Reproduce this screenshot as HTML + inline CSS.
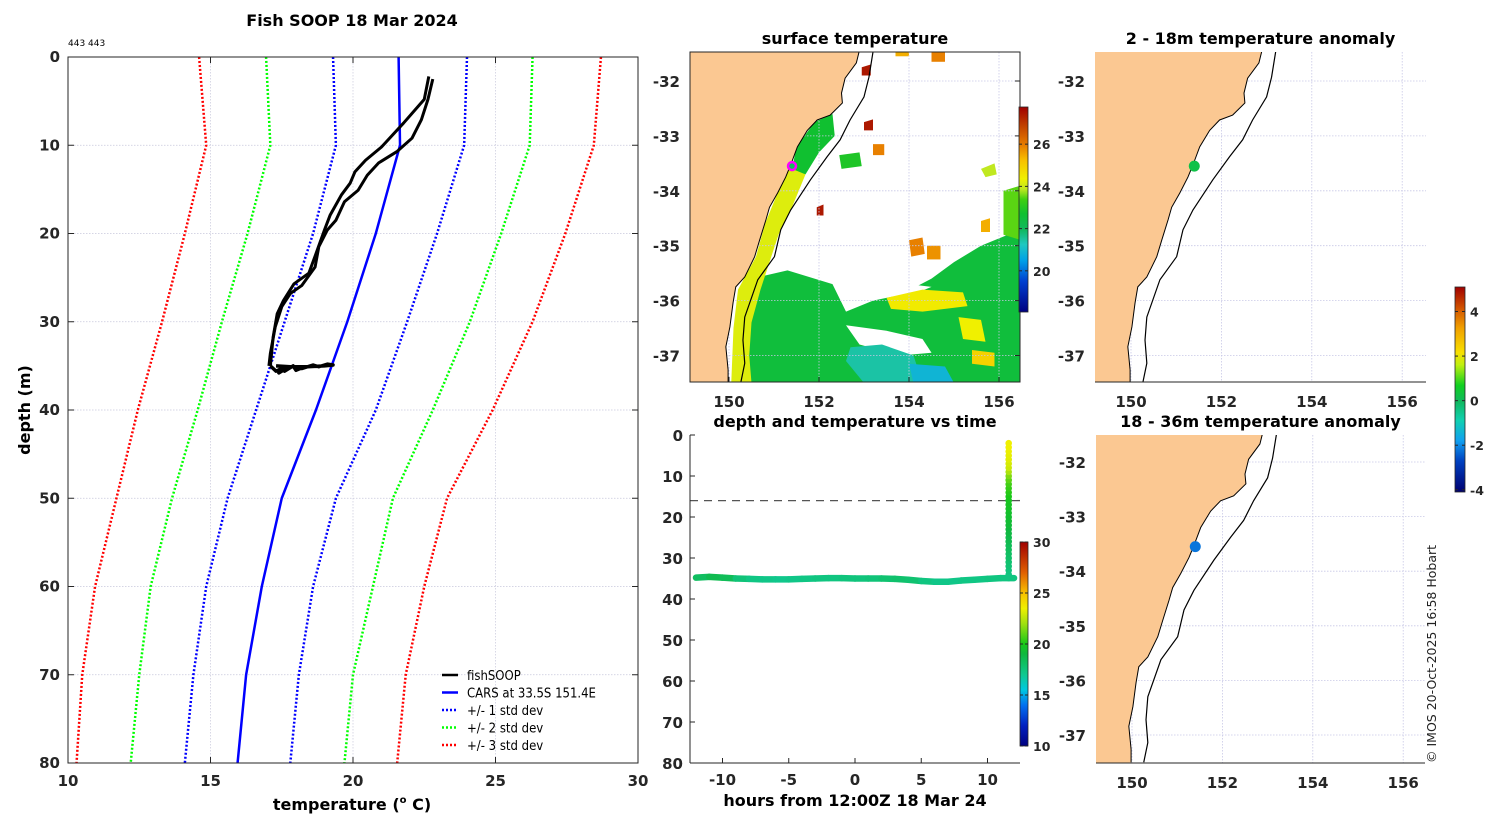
<!DOCTYPE html>
<html><head><meta charset="utf-8"><style>
html,body{margin:0;padding:0;background:#fff;}
svg{display:block;font-family:"DejaVu Sans","Liberation Sans",sans-serif;}
.tk{font-size:15px;font-weight:bold;fill:#262626;}
.tt{font-size:16px;font-weight:bold;fill:#000;}
.cb{font-size:12.5px;font-weight:bold;fill:#262626;}
</style></head><body>
<svg id="fig" width="1500" height="820" viewBox="0 0 1500 820" xmlns="http://www.w3.org/2000/svg">
<defs>
<clipPath id="cp1"><rect x="690" y="52" width="330" height="330"/></clipPath>
<clipPath id="cp2"><rect x="1095" y="52" width="331" height="330"/></clipPath>
<clipPath id="cp3"><rect x="1096" y="435" width="329" height="328"/></clipPath>
<clipPath id="cpm"><rect x="68" y="57" width="570" height="706"/></clipPath>
<linearGradient id="gT" x1="0" y1="1" x2="0" y2="0">
<stop offset="0" stop-color="#00007f"/><stop offset="0.1" stop-color="#0020c0"/><stop offset="0.2" stop-color="#0070f0"/><stop offset="0.275" stop-color="#00c8e0"/><stop offset="0.35" stop-color="#10c890"/><stop offset="0.45" stop-color="#10b840"/><stop offset="0.5" stop-color="#18c818"/><stop offset="0.6" stop-color="#a0e010"/><stop offset="0.675" stop-color="#f0f000"/><stop offset="0.75" stop-color="#f8c000"/><stop offset="0.85" stop-color="#e06000"/><stop offset="1" stop-color="#a00000"/></linearGradient>
<linearGradient id="gS" x1="0" y1="1" x2="0" y2="0">
<stop offset="0" stop-color="#000080"/><stop offset="0.15" stop-color="#0040d0"/><stop offset="0.25" stop-color="#00a0e8"/><stop offset="0.33" stop-color="#20c8c0"/><stop offset="0.4" stop-color="#10b860"/><stop offset="0.48" stop-color="#10c030"/><stop offset="0.55" stop-color="#40d010"/><stop offset="0.6" stop-color="#c0e820"/><stop offset="0.65" stop-color="#f0f000"/><stop offset="0.74" stop-color="#f8c000"/><stop offset="0.81" stop-color="#e88000"/><stop offset="0.91" stop-color="#c04000"/><stop offset="1" stop-color="#a00000"/></linearGradient>
<linearGradient id="gA" x1="0" y1="1" x2="0" y2="0">
<stop offset="0" stop-color="#000070"/><stop offset="0.15" stop-color="#0040c0"/><stop offset="0.25" stop-color="#10a0f0"/><stop offset="0.35" stop-color="#10d0b0"/><stop offset="0.44" stop-color="#10b860"/><stop offset="0.52" stop-color="#10d020"/><stop offset="0.62" stop-color="#c0f010"/><stop offset="0.68" stop-color="#f8e000"/><stop offset="0.8" stop-color="#f0a000"/><stop offset="0.9" stop-color="#d05000"/><stop offset="1" stop-color="#a00000"/></linearGradient>
</defs>
<g id="root"></g>
</svg>
<script>
// ---------- profile data ----------
const stdDepths=[0,10,20,30,40,50,60,70,80];
const carsT=[21.6,21.65,20.8,19.8,18.7,17.5,16.8,16.25,15.95];
const p1T=[24.0,23.9,22.95,21.9,20.8,19.4,18.6,18.1,17.8];
const m1T=[19.3,19.4,18.6,17.6,16.6,15.6,14.85,14.4,14.1];
const p2T=[26.3,26.2,25.2,24.1,22.8,21.4,20.7,20.0,19.7];
const m2T=[16.95,17.1,16.3,15.4,14.55,13.65,12.9,12.5,12.2];
const p3T=[28.7,28.45,27.45,26.3,24.9,23.3,22.5,21.85,21.55];
const m3T=[14.6,14.85,14.1,13.3,12.45,11.7,10.95,10.5,10.3];
const castAT=[22.66,22.5,21.77,21.0,20.44,20.07,19.9,19.6,19.2,19.0,18.7,18.45,17.93,17.56,17.34,17.2,17.1];
const castAD=[2.2,4.8,7.5,10.2,11.7,13,14.3,15.6,17.9,19.6,22.3,24.5,25.7,27.6,29.1,31.7,35];
const castBT=[22.8,22.63,22.4,22.07,21.55,20.9,20.5,20.18,19.7,19.4,19.1,18.8,18.67,18.2,17.8,17.5,17.27,17.1,17.05];
const castBD=[2.5,4.8,7.1,9.2,10.7,12,13.4,15.1,16.4,18.5,19.6,21.5,23.8,25.9,26.8,28.3,30.6,33.6,35];
const bottomT=[17.1,17.3,17.5,17.4,17.7,17.6,17.9,18.0,18.3,18.2,18.6,18.8,19.1,19.3,19.0,18.4,17.8,17.3];
const bottomD=[35.0,35.6,35.3,35.8,35.2,35.6,35.0,35.5,35.1,35.3,34.9,35.1,34.8,34.9,35.0,35.1,35.1,35.0];
const tempTicks=[10,15,20,25,30];
const depthTicks=[0,10,20,30,40,50,60,70,80];
// ---------- time series data ----------
const hrs=[-12,-11,-10,-9,-8,-7,-6,-5,-4,-3,-2,-1,0,1,2,3,4,5,6,7,8,9,10,11,11.6,12];
const hrDepth=[34.8,34.6,34.8,35.0,35.1,35.2,35.2,35.2,35.1,35.0,34.9,34.9,35.0,35.0,35.0,35.1,35.3,35.6,35.8,35.8,35.5,35.3,35.1,34.9,34.9,34.9];
const hrTemp=[18.2,18.6,18.4,17.6,17.3,17.2,17.1,17.2,17.3,17.4,17.4,17.5,17.5,17.6,17.8,17.9,17.8,17.4,17.2,17.2,17.3,17.3,17.4,17.4,17.4,17.4];
const castDepth=[2,3,4,5,6,7,8,9,10,11,12,13,14,15,16,17,18,19,20,21,22,23,24,25,26,27,28,29,30,31,32,33,34];
const castTemp=[23.5,23.5,23.4,23.3,23.2,23.0,22.8,22.2,21.5,21.0,20.6,20.4,20.2,20.0,19.8,19.7,19.6,19.5,19.4,19.3,19.2,19.0,18.9,18.7,18.6,18.4,18.3,18.1,18.0,17.8,17.7,17.5,17.4];
const castHour=11.6;
const hourTicks=[-10,-5,0,5,10];
const mixedLayer=16;
// ---------- map data ----------
const coastLon=[152.89,152.83,152.58,152.5,152.52,152.25,151.96,151.74,151.52,151.37,151.26,151.08,150.9,150.82,150.68,150.57,150.35,150.15,150.09,150.02,149.93,149.98,149.98];
const coastLat=[-31.47,-31.67,-31.95,-32.22,-32.4,-32.62,-32.71,-32.9,-33.2,-33.53,-33.75,-34.04,-34.3,-34.53,-34.9,-35.2,-35.57,-35.75,-36.04,-36.48,-36.84,-37.26,-37.5];
const shelfLon=[153.2,153.11,153.0,152.69,152.47,152.18,151.81,151.37,151.15,151.01,150.64,150.35,150.31,150.35,150.26];
const shelfLat=[-31.47,-31.93,-32.29,-32.71,-33.07,-33.38,-33.8,-34.35,-34.71,-35.2,-35.62,-36.3,-36.72,-37.14,-37.5];
const stationLon=151.4, stationLat=-33.55;
const anomShallow=0.2, anomDeep=-2.2;
const lonTicks=[150,152,154,156];
const latTicks=[-32,-33,-34,-35,-36,-37];
const sstPatches=[
 {t:22.6,p:[150.5,-35.6,151.3,-35.45,152.3,-35.7,152.6,-36.2,153.2,-36.0,153.8,-35.9,154.5,-35.6,155.0,-35.3,155.6,-35.0,156.5,-34.7,156.5,-37.5,150.3,-37.5,150.3,-36.5]},
 {t:null,p:[152.6,-36.45,153.5,-36.55,154.3,-36.7,154.5,-36.95,153.8,-37.0,152.9,-36.8]},
 {t:null,p:[153.3,-35.9,154.0,-35.7,154.5,-35.75,153.9,-35.95]},
 {t:21.5,p:[152.7,-36.85,153.4,-36.8,154.1,-37.0,154.3,-37.5,153.0,-37.5,152.6,-37.1]},
 {t:20.9,p:[154.0,-37.15,154.8,-37.2,155.0,-37.5,154.1,-37.5]},
 {t:24.3,p:[151.35,-33.55,151.7,-33.7,151.4,-34.3,151.1,-34.8,150.9,-35.3,150.7,-35.8,150.5,-36.4,150.45,-37.0,150.5,-37.5,150.05,-37.5,150.1,-36.5,150.2,-35.8,150.6,-35.2,150.8,-34.6,151.1,-34.0]},
 {t:22.8,p:[151.5,-33.2,151.9,-32.75,152.3,-32.6,152.35,-33.0,152.0,-33.3,151.7,-33.7,151.4,-33.6]},
 {t:23.0,p:[152.45,-33.35,152.9,-33.3,152.95,-33.55,152.5,-33.6]},
 {t:24.6,p:[153.5,-35.95,154.3,-35.8,155.2,-35.85,155.3,-36.1,154.3,-36.2,153.6,-36.15]},
 {t:24.5,p:[155.1,-36.3,155.6,-36.35,155.7,-36.75,155.2,-36.7]},
 {t:25.0,p:[155.4,-36.9,155.9,-36.95,155.9,-37.2,155.4,-37.15]},
 {t:23.6,p:[156.1,-34.0,156.5,-33.9,156.5,-34.9,156.1,-34.8]},
 {t:24.0,p:[155.6,-33.6,155.9,-33.5,155.95,-33.7,155.7,-33.75]},
 {t:26.0,p:[154.0,-34.9,154.3,-34.85,154.35,-35.15,154.05,-35.2]},
 {t:25.8,p:[154.4,-35.0,154.7,-35.0,154.7,-35.25,154.4,-35.25]},
 {t:27.5,p:[153.0,-32.75,153.2,-32.7,153.2,-32.9,153.0,-32.9]},
 {t:27.5,p:[152.95,-31.75,153.15,-31.7,153.15,-31.9,152.95,-31.9]},
 {t:26.0,p:[154.5,-31.47,154.8,-31.47,154.8,-31.65,154.5,-31.65]},
 {t:25.5,p:[153.7,-31.47,154.0,-31.47,154.0,-31.55,153.7,-31.55]},
 {t:27.5,p:[151.95,-34.3,152.1,-34.25,152.1,-34.45,151.95,-34.45]},
 {t:25.5,p:[155.6,-34.55,155.8,-34.5,155.8,-34.75,155.6,-34.75]},
 {t:26.0,p:[153.2,-33.15,153.45,-33.15,153.45,-33.35,153.2,-33.35]}
];
const sstTicks=[20,22,24,26];
const tempCbTicks=[10,15,20,25,30];
const anomTicks=[-4,-2,0,2,4];

// ---------- helpers ----------
const NS='http://www.w3.org/2000/svg';
const root=document.getElementById('root');
function mk(tag,attrs,parent){const e=document.createElementNS(NS,tag);for(const k in attrs)e.setAttribute(k,attrs[k]);(parent||root).appendChild(e);return e;}
function txt(s,x,y,cls,anchor,parent){const e=mk('text',{x:x,y:y,class:cls,'text-anchor':anchor||'middle'},parent);e.textContent=s;return e;}
function interp(stops,v){if(v<=stops[0][0])return stops[0][1];for(let i=1;i<stops.length;i++){if(v<=stops[i][0]){const a=stops[i-1],b=stops[i],f=(v-a[0])/(b[0]-a[0]);const ca=hex(a[1]),cb=hex(b[1]);return 'rgb('+ca.map((c,j)=>Math.round(c+(cb[j]-c)*f)).join(',')+')';}}return stops[stops.length-1][1];}
function hex(h){return [parseInt(h.substr(1,2),16),parseInt(h.substr(3,2),16),parseInt(h.substr(5,2),16)];}
const jetStops=[[10,'#00007f'],[12,'#0020c0'],[14,'#0070f0'],[15.5,'#00c8e0'],[17,'#10c890'],[19,'#10b840'],[20,'#18c818'],[22,'#a0e010'],[23.5,'#f0f000'],[25,'#f8c000'],[27,'#e06000'],[30,'#a00000']];
const sstStops=[[18,'#000080'],[19.5,'#0040d0'],[20.5,'#00a0e8'],[21.3,'#20c8c0'],[22,'#10b860'],[22.8,'#10c030'],[23.5,'#40d010'],[24,'#c0e820'],[24.5,'#f0f000'],[25.3,'#f8c000'],[26,'#e88000'],[27,'#c04000'],[27.8,'#a00000']];
const anomStops=[[-4.1,'#000070'],[-2.7,'#0040c0'],[-1.8,'#10a0f0'],[-0.9,'#10d0b0'],[-0.1,'#10b860'],[0.7,'#10d020'],[1.6,'#c0f010'],[2.1,'#f8e000'],[3.2,'#f0a000'],[4.1,'#d05000'],[5.1,'#a00000']];

// ---------- main profile panel ----------
const mX=t=>68+(t-10)*28.5, mY=d=>57+d*8.825;
const gm=mk('g',{});


txt('Fish SOOP 18 Mar 2024',352,26,'tt','middle',gm);
const small=txt('443 443',68,46,'','start',gm);small.setAttribute('font-size','9');
tempTicks.forEach(t=>{if(t>10&&t<30)mk('line',{x1:mX(t),x2:mX(t),y1:57,y2:763,stroke:'#c8c8dc','stroke-width':0.7,'stroke-dasharray':'1.5 1.5'},gm);});
depthTicks.forEach(d=>{if(d>0&&d<80)mk('line',{x1:68,x2:638,y1:mY(d),y2:mY(d),stroke:'#c8c8dc','stroke-width':0.7,'stroke-dasharray':'1.5 1.5'},gm);});
function pline(T,D,attrs,name){const e=mk('polyline',Object.assign({points:T.map((t,i)=>mX(t)+','+mY(D[i])).join(' '),fill:'none','clip-path':'url(#cpm)','stroke-linejoin':'round'},attrs),gm);return e;}
pline(m3T,stdDepths,{stroke:'#ff0000','stroke-width':2.5,'stroke-dasharray':'2 2'},'minus-3-std-line');
pline(p3T,stdDepths,{stroke:'#ff0000','stroke-width':2.5,'stroke-dasharray':'2 2'},'plus-3-std-line');
pline(m2T,stdDepths,{stroke:'#00ff00','stroke-width':2.5,'stroke-dasharray':'2 2'},'minus-2-std-line');
pline(p2T,stdDepths,{stroke:'#00ff00','stroke-width':2.5,'stroke-dasharray':'2 2'},'plus-2-std-line');
pline(m1T,stdDepths,{stroke:'#0000ff','stroke-width':2.5,'stroke-dasharray':'2 2'},'minus-1-std-line');
pline(p1T,stdDepths,{stroke:'#0000ff','stroke-width':2.5,'stroke-dasharray':'2 2'},'plus-1-std-line');
pline(carsT,stdDepths,{stroke:'#0000ff','stroke-width':2.5},'cars-mean-line');
pline(castAT,castAD,{stroke:'#000','stroke-width':3},'fishsoop-downcast');
pline(castBT,castBD,{stroke:'#000','stroke-width':3},'fishsoop-upcast');
pline(bottomT,bottomD,{stroke:'#000','stroke-width':3.5},'fishsoop-bottom-track');
mk('rect',{x:68,y:57,width:570,height:706,fill:'none',stroke:'#262626','stroke-width':1},gm);
tempTicks.forEach(t=>{mk('line',{x1:mX(t),x2:mX(t),y1:763,y2:757,stroke:'#262626'},gm);mk('line',{x1:mX(t),x2:mX(t),y1:57,y2:63,stroke:'#262626'},gm);const l=txt(String(t),mX(t),786,'tk','middle',gm);});
depthTicks.forEach(d=>{mk('line',{x1:68,x2:74,y1:mY(d),y2:mY(d),stroke:'#262626'},gm);mk('line',{x1:632,x2:638,y1:mY(d),y2:mY(d),stroke:'#262626'},gm);const l=txt(String(d),60,mY(d)+5,'tk','end',gm);});
const xl=mk('text',{x:352,y:810,class:'tt','text-anchor':'middle'},gm);xl.innerHTML='temperature (<tspan font-size="10" dy="-7">o</tspan><tspan dy="7"> C)</tspan>';
const yl=txt('depth (m)',0,0,'tt','middle',gm);yl.setAttribute('transform','translate(30,410) rotate(-90)');
const lg=mk('g',{},gm);
const legItems=[['fishSOOP','#000',null],['CARS at 33.5S 151.4E','#0000ff',null],['+/- 1 std dev','#0000ff','2 2'],['+/- 2 std dev','#00ff00','2 2'],['+/- 3 std dev','#ff0000','2 2']];
legItems.forEach((it,i)=>{const y=675+i*17.5;const a={x1:442,x2:458,y1:y,y2:y,stroke:it[1],'stroke-width':2.5};if(it[2])a['stroke-dasharray']=it[2];mk('line',a,lg);const t=txt(it[0],467,y+5,'','start',lg);t.setAttribute('font-size','13');t.setAttribute('font-family','"DejaVu Sans Condensed","DejaVu Sans",sans-serif');});

// ---------- map helper ----------
function drawMap(cfg){
 const g=mk('g',{});
 
 
 const X=lon=>cfg.lx+(lon-150)*cfg.sx, Y=lat=>cfg.ly+(-32-lat)*cfg.sy;
 const c=mk('g',{'clip-path':'url(#'+cfg.clip+')'},g);
 if(cfg.sst){sstPatches.forEach(p=>{const pts=[];for(let i=0;i<p.p.length;i+=2)pts.push(X(p.p[i])+','+Y(p.p[i+1]));const e=mk('polygon',{points:pts.join(' '),fill:p.t===null?'#fff':interp(sstStops,p.t)},c);});}
 lonTicks.forEach(l=>mk('line',{x1:X(l),x2:X(l),y1:cfg.y0,y2:cfg.y0+cfg.h,stroke:'#c8c8e6','stroke-width':0.8,'stroke-dasharray':'1.5 1.5'},c));
 latTicks.forEach(l=>mk('line',{x1:cfg.x0,x2:cfg.x0+cfg.w,y1:Y(l),y2:Y(l),stroke:'#c8c8e6','stroke-width':0.8,'stroke-dasharray':'1.5 1.5'},c));
 const land=coastLon.map((l,i)=>X(l)+','+Y(coastLat[i]));land.push(X(149)+','+Y(-37.6));land.push(X(149)+','+Y(-31.4));
 const lp=mk('polygon',{points:land.join(' '),fill:'#fbc892',stroke:'none'},c);
 const cl=mk('polyline',{points:coastLon.map((l,i)=>X(l)+','+Y(coastLat[i])).join(' '),fill:'none',stroke:'#000','stroke-width':1},c);
 const sh=mk('polyline',{points:shelfLon.map((l,i)=>X(l)+','+Y(shelfLat[i])).join(' '),fill:'none',stroke:'#000','stroke-width':1.2},c);
 const st=mk('circle',{cx:X(stationLon),cy:Y(stationLat),r:cfg.sst?4:5.5,fill:cfg.dot,stroke:cfg.sst?'#ff00ff':'none','stroke-width':cfg.sst?2.5:0},c);
 if(cfg.box){mk('rect',{x:cfg.x0,y:cfg.y0,width:cfg.w,height:cfg.h,fill:'none',stroke:'#262626'},g);}
 else{mk('line',{x1:cfg.x0,x2:cfg.x0+cfg.w,y1:cfg.y0+cfg.h,y2:cfg.y0+cfg.h,stroke:'#262626'},g);}
 lonTicks.forEach(l=>{if(cfg.box){mk('line',{x1:X(l),x2:X(l),y1:cfg.y0+cfg.h,y2:cfg.y0+cfg.h-5,stroke:'#262626'},g);}const t=txt(String(l),X(l),cfg.y0+cfg.h+25,'tk','middle',g);t.setAttribute('font-size','16');});
 latTicks.forEach(l=>{if(cfg.box){mk('line',{x1:cfg.x0+cfg.w,x2:cfg.x0+cfg.w-5,y1:Y(l),y2:Y(l),stroke:'#262626'},g);}const t=txt(String(l),cfg.x0-10,Y(l)+6,'tk','end',g);t.setAttribute('font-size','16');});
 const ti=txt(cfg.title,cfg.x0+cfg.w/2,cfg.y0-8,'tt','middle',g);
}
drawMap({name:'surface-temperature-map',title:'surface temperature',x0:690,y0:52,w:330,h:330,lx:729,sx:45,ly:81,sy:54.9,clip:'cp1',sst:true,box:true,dot:'#10c060'});
drawMap({name:'shallow-anomaly-map',title:'2 - 18m temperature anomaly',x0:1095,y0:52,w:331,h:330,lx:1131,sx:45.2,ly:81,sy:54.9,clip:'cp2',sst:false,box:false,dot:interp(anomStops,anomShallow)});
drawMap({name:'deep-anomaly-map',title:'18 - 36m temperature anomaly',x0:1096,y0:435,w:329,h:328,lx:1132,sx:45.2,ly:462,sy:54.6,clip:'cp3',sst:false,box:false,dot:interp(anomStops,anomDeep)});

// ---------- time panel ----------
const gt=mk('g',{});


const tX=h=>855+h*13.25, tY=d=>435+d*4.1;
txt('depth and temperature vs time',855,427,'tt','middle',gt);
const ml=mk('line',{x1:690,x2:1020,y1:tY(mixedLayer),y2:tY(mixedLayer),stroke:'#555','stroke-width':1.3,'stroke-dasharray':'8 6'},gt);
for(let i=0;i<hrs.length-1;i++){const s=mk('line',{x1:tX(hrs[i]),y1:tY(hrDepth[i]),x2:tX(hrs[i+1]),y2:tY(hrDepth[i+1]),stroke:interp(jetStops,hrTemp[i]),'stroke-width':6.5,'stroke-linecap':'round'},gt);}
for(let i=castDepth.length-1;i>=0;i--){const s=mk('circle',{cx:tX(castHour),cy:tY(castDepth[i]),r:3.3,fill:interp(jetStops,castTemp[i])},gt);}
mk('line',{x1:690,x2:690,y1:435,y2:763,stroke:'#262626'},gt);
mk('line',{x1:690,x2:1020,y1:763,y2:763,stroke:'#262626'},gt);
depthTicks.forEach(d=>{mk('line',{x1:690,x2:695,y1:tY(d),y2:tY(d),stroke:'#262626'},gt);const t=txt(String(d),683,tY(d)+6,'tk','end',gt);t.setAttribute('font-size','16');});
hourTicks.forEach(h=>{mk('line',{x1:tX(h),x2:tX(h),y1:763,y2:758,stroke:'#262626'},gt);const t=txt(String(h),tX(h),785,'tk','middle',gt);t.setAttribute('font-size','16');});
txt('hours from 12:00Z 18 Mar 24',855,806,'tt','middle',gt);

// ---------- colorbars ----------
function cbar(name,x,y,w,h,grad,ticks,vmin,vmax){const g=mk('g',{});mk('rect',{x:x,y:y,width:w,height:h,fill:'url(#'+grad+')',stroke:'#262626','stroke-width':0.8},g);ticks.forEach(v=>{const yy=y+h-(v-vmin)/(vmax-vmin)*h;mk('line',{x1:x+w-3,x2:x+w,y1:yy,y2:yy,stroke:'#262626'},g);mk('line',{x1:x,x2:x+3,y1:yy,y2:yy,stroke:'#262626'},g);const t=txt(String(v),x+w+5,yy+5,'cb','start',g);});}
cbar('sst-colorbar',1019,107,9,205,'gS',sstTicks,18.05,27.76);
cbar('temperature-colorbar',1020,542,8,204,'gT',tempCbTicks,10,30);
cbar('anomaly-colorbar',1455,287,10,205,'gA',anomTicks,-4.1,5.1);

const cp=txt('© IMOS 20-Oct-2025 16:58 Hobart',0,0,'','start');cp.setAttribute('font-size','12.5');cp.setAttribute('fill','#222');cp.setAttribute('transform','translate(1436,763) rotate(-90)');
</script>
</body></html>
